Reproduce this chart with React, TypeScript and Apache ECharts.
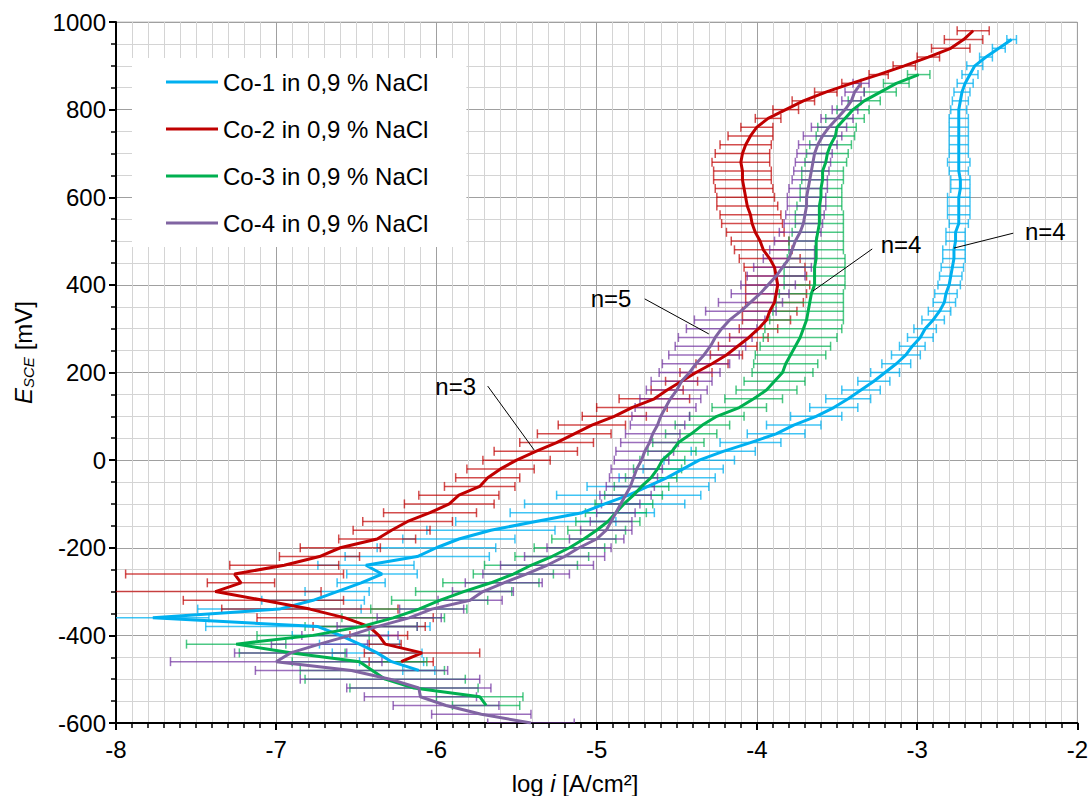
import React, { useEffect, useRef } from "react";
import * as echarts from "echarts";

const FONT = '"Liberation Sans", Arial, sans-serif';

const seriesNames = [
  "Co-1 in 0,9 % NaCl",
  "Co-2 in 0,9 % NaCl",
  "Co-3 in 0,9 % NaCl",
  "Co-4 in 0,9 % NaCl",
];
const seriesColors = ["#00B0F0", "#C00000", "#00B050", "#8064A2"];
const errColors = [
  "rgba(0,176,240,0.75)",
  "rgba(192,0,0,0.7)",
  "rgba(0,176,80,0.7)",
  "rgba(112,48,160,0.7)",
];

// [E_SCE (mV), log i (A/cm²), error half-width (log units)]
const co1: number[][] = [
  [-480, -6.11, 0.1], [-460, -6.28, 0.2], [-440, -6.37, 0.28], [-420, -6.48, 0.25],
  [-400, -6.6, 0.3], [-380, -6.74, 0.7], [-360, -7.77, 0.35], [-340, -6.98, 0.51],
  [-320, -6.77, 0.32], [-300, -6.62, 0.2], [-280, -6.47, 0.15], [-260, -6.34, 0.22],
  [-240, -6.44, 0.3], [-220, -6.12, 0.45], [-200, -6.0, 0.37], [-180, -5.86, 0.35],
  [-160, -5.66, 0.4], [-140, -5.38, 0.5], [-120, -5.09, 0.45], [-100, -4.95, 0.5],
  [-80, -4.8, 0.45], [-60, -4.68, 0.38], [-40, -4.56, 0.3], [-20, -4.46, 0.25],
  [0, -4.36, 0.22], [20, -4.21, 0.2], [40, -4.04, 0.19], [60, -3.88, 0.18],
  [80, -3.77, 0.17], [100, -3.63, 0.16], [120, -3.52, 0.15], [140, -3.43, 0.14],
  [160, -3.35, 0.12], [180, -3.27, 0.1], [200, -3.2, 0.09], [220, -3.13, 0.09],
  [240, -3.07, 0.09], [260, -3.03, 0.08], [280, -2.98, 0.08], [300, -2.95, 0.07],
  [320, -2.9, 0.07], [340, -2.86, 0.07], [360, -2.83, 0.07], [380, -2.82, 0.07],
  [400, -2.8, 0.07], [420, -2.79, 0.07], [440, -2.78, 0.07], [460, -2.77, 0.07],
  [480, -2.77, 0.07], [500, -2.76, 0.06], [520, -2.76, 0.06], [540, -2.74, 0.06],
  [560, -2.74, 0.07], [580, -2.74, 0.07], [600, -2.74, 0.07], [620, -2.73, 0.06],
  [640, -2.73, 0.06], [660, -2.74, 0.06], [680, -2.74, 0.07], [700, -2.74, 0.06],
  [720, -2.74, 0.06], [740, -2.74, 0.06], [760, -2.74, 0.06], [780, -2.74, 0.06],
  [800, -2.74, 0.05], [820, -2.73, 0.05], [840, -2.72, 0.05], [860, -2.7, 0.05],
  [880, -2.67, 0.05], [900, -2.64, 0.05], [920, -2.57, 0.04], [940, -2.49, 0.04],
  [960, -2.41, 0.03],
];

const co2: number[][] = [
  [-460, -6.22, 0.2], [-440, -6.09, 0.36], [-420, -6.32, 0.1], [-400, -6.36, 0.18],
  [-380, -6.42, 0.35], [-360, -6.57, 0.55], [-340, -6.79, 0.55], [-320, -7.08, 0.5],
  [-300, -7.38, 0.66], [-280, -7.22, 0.21], [-260, -7.26, 0.68], [-240, -6.95, 0.34],
  [-220, -6.73, 0.25], [-200, -6.6, 0.25], [-180, -6.37, 0.24], [-160, -6.28, 0.24],
  [-140, -6.18, 0.28], [-120, -6.04, 0.29], [-100, -5.92, 0.28], [-80, -5.86, 0.25],
  [-60, -5.73, 0.22], [-40, -5.68, 0.2], [-20, -5.6, 0.21], [0, -5.5, 0.21],
  [20, -5.38, 0.26], [40, -5.25, 0.23], [60, -5.14, 0.23], [80, -5.03, 0.21],
  [100, -4.89, 0.2], [120, -4.78, 0.22], [140, -4.64, 0.22], [160, -4.56, 0.1],
  [180, -4.47, 0.1], [200, -4.38, 0.1], [220, -4.28, 0.1], [240, -4.19, 0.1],
  [260, -4.12, 0.12], [280, -4.05, 0.12], [300, -3.99, 0.12], [320, -3.94, 0.15],
  [340, -3.92, 0.17], [360, -3.89, 0.18], [380, -3.88, 0.19], [400, -3.87, 0.2],
  [420, -3.88, 0.19], [440, -3.89, 0.19], [460, -3.92, 0.19], [480, -3.96, 0.18],
  [500, -3.98, 0.18], [520, -4.01, 0.18], [540, -4.03, 0.19], [560, -4.04, 0.19],
  [580, -4.06, 0.19], [600, -4.07, 0.18], [620, -4.08, 0.18], [640, -4.09, 0.18],
  [660, -4.09, 0.18], [680, -4.1, 0.18], [700, -4.09, 0.17], [720, -4.07, 0.16],
  [740, -4.04, 0.14], [760, -4.0, 0.1], [780, -3.93, 0.08], [800, -3.82, 0.08],
  [820, -3.71, 0.07], [840, -3.57, 0.07], [860, -3.41, 0.06], [880, -3.24, 0.06],
  [900, -3.08, 0.07], [920, -2.93, 0.07], [940, -2.79, 0.12], [960, -2.71, 0.12],
  [980, -2.65, 0.1],
];

const co3: number[][] = [
  [-560, -5.69, 0.21], [-540, -5.73, 0.27], [-520, -6.14, 0.4], [-500, -6.32, 0.5],
  [-480, -6.4, 0.45], [-460, -6.48, 0.42], [-440, -6.9, 0.33], [-420, -7.25, 0.31],
  [-400, -6.77, 0.35], [-380, -6.47, 0.35], [-360, -6.27, 0.32], [-340, -6.11, 0.3],
  [-320, -5.98, 0.3], [-300, -5.83, 0.3], [-280, -5.66, 0.3], [-260, -5.52, 0.25],
  [-240, -5.41, 0.29], [-220, -5.28, 0.23], [-200, -5.17, 0.22], [-180, -5.08, 0.2],
  [-160, -5.0, 0.18], [-140, -4.93, 0.2], [-120, -4.88, 0.19], [-100, -4.83, 0.18],
  [-80, -4.77, 0.18], [-60, -4.72, 0.17], [-40, -4.66, 0.16], [-20, -4.62, 0.15],
  [0, -4.59, 0.14], [20, -4.53, 0.15], [40, -4.49, 0.16], [60, -4.41, 0.16],
  [80, -4.34, 0.17], [100, -4.25, 0.17], [120, -4.11, 0.17], [140, -4.02, 0.18],
  [160, -3.94, 0.19], [180, -3.89, 0.19], [200, -3.84, 0.19], [220, -3.82, 0.2],
  [240, -3.79, 0.22], [260, -3.76, 0.22], [280, -3.73, 0.23], [300, -3.71, 0.24],
  [320, -3.69, 0.23], [340, -3.68, 0.22], [360, -3.67, 0.21], [380, -3.66, 0.2],
  [400, -3.64, 0.19], [420, -3.64, 0.19], [440, -3.64, 0.19], [460, -3.63, 0.18],
  [480, -3.63, 0.17], [500, -3.63, 0.17], [520, -3.62, 0.16], [540, -3.61, 0.15],
  [560, -3.61, 0.15], [580, -3.61, 0.14], [600, -3.6, 0.13], [620, -3.6, 0.13],
  [640, -3.59, 0.13], [660, -3.59, 0.13], [680, -3.57, 0.13], [700, -3.56, 0.13],
  [720, -3.54, 0.13], [740, -3.51, 0.12], [760, -3.5, 0.12], [780, -3.45, 0.12],
  [800, -3.4, 0.1], [820, -3.33, 0.1], [840, -3.23, 0.1], [860, -3.13, 0.08],
  [880, -2.99, 0.07],
];

const co4: number[][] = [
  [-600, -5.41, 0.27], [-580, -5.72, 0.31], [-560, -5.94, 0.33], [-540, -6.1, 0.35],
  [-520, -6.11, 0.45], [-500, -6.29, 0.56], [-480, -6.53, 0.6], [-460, -7.0, 0.66],
  [-440, -6.91, 0.35], [-420, -6.73, 0.3], [-400, -6.54, 0.3], [-380, -6.37, 0.25],
  [-360, -6.17, 0.2], [-340, -6.03, 0.2], [-320, -5.79, 0.2], [-300, -5.71, 0.19],
  [-280, -5.58, 0.24], [-260, -5.44, 0.27], [-240, -5.31, 0.29], [-220, -5.2, 0.25],
  [-200, -5.11, 0.2], [-180, -5.0, 0.17], [-160, -4.94, 0.16], [-140, -4.91, 0.13],
  [-120, -4.88, 0.12], [-100, -4.85, 0.12], [-80, -4.82, 0.16], [-60, -4.79, 0.15],
  [-40, -4.77, 0.15], [-20, -4.75, 0.16], [0, -4.72, 0.17], [20, -4.7, 0.18],
  [40, -4.67, 0.18], [60, -4.65, 0.17], [80, -4.62, 0.17], [100, -4.6, 0.18],
  [120, -4.57, 0.19], [140, -4.54, 0.19], [160, -4.5, 0.19], [180, -4.47, 0.19],
  [200, -4.42, 0.19], [220, -4.38, 0.21], [240, -4.33, 0.22], [260, -4.29, 0.22],
  [280, -4.26, 0.23], [300, -4.22, 0.22], [320, -4.17, 0.22], [340, -4.1, 0.22],
  [360, -4.04, 0.2], [380, -3.98, 0.18], [400, -3.93, 0.17], [420, -3.88, 0.18],
  [440, -3.84, 0.18], [460, -3.8, 0.16], [480, -3.78, 0.14], [500, -3.76, 0.13],
  [520, -3.73, 0.13], [540, -3.71, 0.12], [560, -3.7, 0.12], [580, -3.69, 0.12],
  [600, -3.69, 0.12], [620, -3.68, 0.12], [640, -3.67, 0.11], [660, -3.66, 0.11],
  [680, -3.65, 0.11], [700, -3.64, 0.11], [720, -3.62, 0.12], [740, -3.59, 0.12],
  [760, -3.55, 0.11], [780, -3.5, 0.1], [800, -3.45, 0.08], [820, -3.41, 0.06],
  [840, -3.39, 0.06], [860, -3.35, 0.05],
];

const allSeries = [co1, co2, co3, co4];

// annotation labels (data coordinates): label position and leader line
const annotations = [
  { text: "n=3", x: -5.88, y: 168, x1: -5.68, y1: 169, x2: -5.39, y2: 23 },
  { text: "n=5", x: -4.91, y: 368, x1: -4.7, y1: 368, x2: -4.3, y2: 288 },
  { text: "n=4", x: -3.1, y: 492, x1: -3.28, y1: 482, x2: -3.65, y2: 386 },
  { text: "n=4", x: -2.2, y: 522, x1: -2.4, y1: 518, x2: -2.77, y2: 484 },
];

export default function App() {
  const ref = useRef<HTMLDivElement>(null);

  useEffect(() => {
    if (!ref.current) return;
    const chart = echarts.init(ref.current, undefined, { renderer: "svg" });

    const errSeries = allSeries.map((data, i) => ({
      type: "custom",
      name: "err" + i,
      silent: true,
      clip: true,
      z: 1,
      encode: { x: 1, y: 0 },
      data: data.map((d) => [d[0], d[1], d[2]]),
      renderItem: (params: any, api: any) => {
        const y = api.value(0);
        const x = api.value(1);
        const e = api.value(2);
        const p1 = api.coord([x - e, y]);
        const p2 = api.coord([x + e, y]);
        const h = 4.5;
        const st = { stroke: errColors[i], lineWidth: 1.5 };
        return {
          type: "group",
          children: [
            { type: "line", shape: { x1: p1[0], y1: p1[1], x2: p2[0], y2: p2[1] }, style: st },
            { type: "line", shape: { x1: p1[0], y1: p1[1] - h, x2: p1[0], y2: p1[1] + h }, style: st },
            { type: "line", shape: { x1: p2[0], y1: p2[1] - h, x2: p2[0], y2: p2[1] + h }, style: st },
          ],
        };
      },
    }));

    const lineSeries = allSeries.map((data, i) => ({
      type: "line",
      name: seriesNames[i],
      data: data.map((d) => [d[1], d[0]]),
      showSymbol: false,
      symbol: "none",
      z: 3 + i,
      color: seriesColors[i],
      lineStyle: { color: seriesColors[i], width: 3 },
      clip: true,
    }));

    const axisCommon = {
      axisLine: { show: true, onZero: false, lineStyle: { color: "#000", width: 2 } },
      axisTick: { show: true, length: 7, lineStyle: { color: "#000", width: 2 } },
      axisLabel: {
        fontSize: 24,
        color: "#000",
        fontFamily: FONT,
        formatter: (v: number) => String(v),
      },
      splitLine: { show: true, lineStyle: { color: "#a0a0a0", width: 1 } },
      minorSplitLine: { show: true, lineStyle: { color: "#d4d4d4", width: 1 } },
    };

    chart.setOption({
      animation: false,
      backgroundColor: "#fff",
      grid: {
        left: 116,
        right: 12,
        top: 22,
        bottom: 73,
        show: true,
        borderColor: "#bfbfbf",
        borderWidth: 1,
      },
      xAxis: {
        type: "value",
        min: -8,
        max: -2,
        interval: 1,
        ...axisCommon,
        axisLabel: { ...axisCommon.axisLabel, margin: 14 },
        minorTick: { show: true, splitNumber: 10, length: 5, lineStyle: { color: "#000", width: 1.5 } },
      },
      yAxis: {
        type: "value",
        min: -600,
        max: 1000,
        interval: 200,
        ...axisCommon,
        axisLabel: { ...axisCommon.axisLabel, margin: 10 },
        minorTick: { show: true, splitNumber: 4, length: 5, lineStyle: { color: "#000", width: 1.5 } },
      },
      legend: {
        data: seriesNames,
        orient: "vertical",
        left: 132,
        top: 58,
        padding: [12, 38, 12, 34],
        itemGap: 23,
        itemWidth: 52,
        itemHeight: 3,
        icon: "rect",
        backgroundColor: "#fff",
        textStyle: { fontSize: 24, color: "#000", fontFamily: FONT, lineHeight: 24 },
        selectedMode: false,
      },
      series: [...errSeries, ...lineSeries],
    });

    const graphics: any[] = [];
    annotations.forEach((a) => {
      const t = chart.convertToPixel({ gridIndex: 0 }, [a.x, a.y]) as number[];
      const p1 = chart.convertToPixel({ gridIndex: 0 }, [a.x1, a.y1]) as number[];
      const p2 = chart.convertToPixel({ gridIndex: 0 }, [a.x2, a.y2]) as number[];
      graphics.push({
        type: "line",
        shape: { x1: p1[0], y1: p1[1], x2: p2[0], y2: p2[1] },
        style: { stroke: "#000", lineWidth: 1 },
        z: 10,
      });
      graphics.push({
        type: "text",
        x: t[0],
        y: t[1],
        style: {
          text: a.text,
          fill: "#000",
          font: `24px ${FONT}`,
          textAlign: "center",
          textVerticalAlign: "middle",
        },
        z: 10,
      });
    });

    // x axis title
    graphics.push({
      type: "text",
      x: 575,
      y: 783,
      style: {
        text: "{a|log }{b|i}{a| [A/cm²]}",
        rich: {
          a: { fontSize: 24, fontFamily: FONT, fill: "#000" },
          b: { fontSize: 24, fontFamily: FONT, fontStyle: "italic", fill: "#000" },
        },
        textAlign: "center",
        textVerticalAlign: "middle",
      },
    });

    // y axis title (rotated)
    graphics.push({
      type: "group",
      x: 23,
      y: 404,
      rotation: Math.PI / 2,
      children: [
        {
          type: "text",
          x: 0,
          y: 0,
          style: { text: "E", font: `italic 24px ${FONT}`, fill: "#000", textAlign: "left", textVerticalAlign: "middle" },
        },
        {
          type: "text",
          x: 16,
          y: 5,
          style: { text: "SCE", font: `italic 15px ${FONT}`, fill: "#000", textAlign: "left", textVerticalAlign: "middle" },
        },
        {
          type: "text",
          x: 47,
          y: 0,
          style: { text: " [mV]", font: `24px ${FONT}`, fill: "#000", textAlign: "left", textVerticalAlign: "middle" },
        },
      ],
    });

    chart.setOption({ graphic: graphics });

    return () => {
      chart.dispose();
    };
  }, []);

  return (
    <div
      ref={ref}
      style={{ position: "fixed", left: 0, top: 0, width: 1091, height: 796, background: "#fff" }}
    />
  );
}
